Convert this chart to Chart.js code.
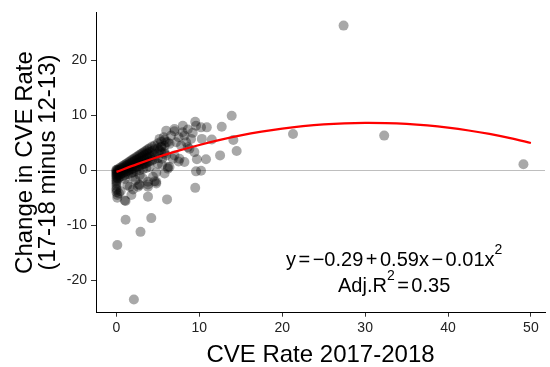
<!DOCTYPE html>
<html lang="en">
<head>
<meta charset="UTF-8">
<title>Change in CVE Rate</title>
<script src="https://cdn.jsdelivr.net/npm/chart.js"></script>
<style>
  html, body { margin: 0; padding: 0; background: #fff; }
  #wrap { width: 550px; height: 367px; }
</style>
</head>
<body>
<div id="wrap"><canvas id="scatterChart"></canvas></div>
<script>
// CVE rate 2017-18 (x) and change in rate, 17-18 minus 12-13 (y)
const cveRate = [
    27.4, 21.3, 32.3, 49.1,
    13.9, 12.7, 14.1, 14.5, 12.5, 10.9, 10.2, 11.5, 10.3, 10.8, 9.7, 9.6, 10.2, 9.5,
    9.5, 9.6, 8.0, 7.0, 8.2, 9.0, 7.2, 6.4, 9.4, 8.2, 7.5, 7.0, 8.6, 6.4, 8.0, 8.4, 8.8, 7.6, 6.2, 6.0,
    5.5, 5.2, 5.4, 6.2, 6.0, 7.0, 6.0, 5.2, 6.8, 6.2, 7.5, 6.6, 5.7, 8.6, 9.2, 7.8, 5.0, 5.8,
    1.1, 4.2, 2.9, 0.1, 2.1, 3.8, 6.1, 1.0, 1.8, 2.7, 3.8, 4.8, 1.6, 2.0, 4.8, 4.4, 3.8, 4.8,
    2.8, 4.6, 3.8, 2.6, 1.1, 0.1, 0.1, 0.0, 0.0, 0.0, 0.3, 0.5, 1.3, 2.3, 3.2, 5.5, 5.8,
    0, 0, 0, 0, 0, 0, 0, 0, 0, 0, 0, 0, 0,
    0.2, 0.2, 0.2, 0.2, 0.2,
    0.4, 0.4, 0.4, 0.4, 0.4,
    0.6, 0.6, 0.6, 0.6,
    0.8, 0.8, 0.8, 0.8, 0.8,
    1.0, 1.0, 1.0, 1.0, 1.0, 1.0,
    1.2, 1.2, 1.2, 1.2,
    1.4, 1.4, 1.4, 1.4, 1.4,
    1.6, 1.6, 1.6, 1.6,
    1.8, 1.8, 1.8, 1.8, 1.8,
    2.0, 2.0, 2.0, 2.0, 2.0, 2.0,
    2.2, 2.2, 2.2, 2.2,
    2.4, 2.4, 2.4, 2.4, 2.4,
    2.6, 2.6, 2.6, 2.6,
    2.8, 2.8, 2.8, 2.8, 2.8, 2.8,
    3.0, 3.0, 3.0, 3.0,
    3.2, 3.2, 3.2, 3.2, 3.2,
    3.4, 3.4, 3.4, 3.4,
    3.6, 3.6, 3.6, 3.6, 3.6,
    3.8, 3.8, 3.8, 3.8,
    4.0, 4.0, 4.0, 4.0, 4.0,
    4.3, 4.3, 4.3, 4.3,
    4.6, 4.6, 4.6, 4.6,
    5.0, 5.0, 5.0, 5.0,
    5.4, 5.4, 5.4,
    5.8, 5.8, 5.8
];
const cveChange = [
    26.3, 6.6, 6.3, 1.1,
    9.9, 7.9, 5.5, 3.5, 2.7, 7.8, 7.8, 5.6, 5.7, 2.0, 2.0, -0.2, -0.1, -3.2,
    8.8, 8.1, 8.1, 7.1, 6.3, 5.7, 5.1, 4.8, 3.3, 1.5, 1.6, 2.7, 4.2, 0.6, 6.9, 5.1, 3.9, 2.1, 5.1, 2.7,
    2.1, 5.7, 4.2, 0.6, 7.2, 7.5, 5.1, 3.6, 2.1, 0.3, 6.0, 6.3, 6.0, 7.4, 6.8, 4.5, 1.2, 3.3,
    -9.0, -8.7, -11.2, -13.6, -23.5, -4.8, -5.3, -5.5, -4.5, -2.6, -2.6, -2.4, -3.0, -3.5, -0.4, -1.2, -2.1, -2.1,
    -2.7, -2.0, -3.0, -3.0, -5.6, -4.5, -5.0, -3.3, -2.1, -1.0, -4.2, -3.8, -2.7, -1.8, -1.5, 1.0, -0.6,
    0.1, 0.0, -0.2, -0.4, -0.6, -0.8, -1.2, -1.5, -1.8, -2.4, -2.8, -3.6, -4.0,
    0.2, 0.0, -0.4, -0.9, -1.5,
    0.4, 0.1, -0.3, -0.8, -1.2,
    0.6, 0.3, -0.1, -0.6,
    0.8, 0.4, 0.0, -0.5, -1.1,
    1.0, 0.6, 0.2, -0.3, -0.9, -1.6,
    1.2, 0.8, 0.3, -0.2,
    1.4, 1.0, 0.5, -0.1, -0.7,
    1.6, 1.1, 0.6, 0.1,
    1.8, 1.3, 0.8, 0.2, -0.5,
    2.0, 1.5, 0.9, 0.3, -0.4, -1.2,
    2.2, 1.7, 1.1, 0.5,
    2.4, 1.9, 1.3, 0.6, -0.2,
    2.6, 2.0, 1.4, 0.7,
    2.8, 2.2, 1.5, 0.8, 0.0, -0.9,
    3.0, 2.4, 1.7, 1.0,
    3.2, 2.6, 1.8, 1.1, 0.2,
    3.4, 2.8, 2.0, 1.2,
    3.6, 3.0, 2.2, 1.3, 0.4,
    3.8, 3.1, 2.3, 1.5,
    4.0, 3.3, 2.5, 1.6, 0.6,
    4.3, 3.5, 2.6, 1.8,
    4.5, 3.8, 2.9, 2.0,
    4.9, 4.0, 3.1, 2.2,
    5.2, 4.3, 3.3,
    5.5, 4.4, 3.0
];

// red fitted curve
const fitRate   = [0, 2.5, 5, 7.5, 10, 12.5, 15, 17.5, 20, 22.5, 25, 27.5, 30, 32.5, 35, 37.5, 40, 42.5, 45, 47.5, 50];
const fitChange = [-0.29, 1.11, 2.40, 3.56, 4.60, 5.52, 6.33, 7.01, 7.57, 8.01, 8.34, 8.54, 8.62, 8.58, 8.43, 8.15, 7.75, 7.23, 6.60, 5.84, 4.96];

const xTickValues = [0, 10, 20, 30, 40, 50];
const yTickValues = [-20, -10, 0, 10, 20];

const FONT = '"Liberation Sans", Arial, sans-serif';

const points = cveRate.map((v, i) => ({ x: v, y: cveChange[i] }));
const fitLine = fitRate.map((v, i) => ({ x: v, y: fitChange[i] }));

// draws a row of text pieces with superscripts, centred on cx
function drawMathLine(ctx, parts, cx, baseY) {
    const big = '20px ' + FONT;
    const small = '14px ' + FONT;
    const gap = 2.5;
    const widths = parts.map(p => { ctx.font = p.sup ? small : big; return ctx.measureText(p.t).width; });
    let total = 0;
    parts.forEach((p, i) => {
        total += widths[i];
        if (i < parts.length - 1 && !parts[i + 1].sup) total += gap;
    });
    let xPos = cx - total / 2;
    ctx.textAlign = 'left';
    ctx.textBaseline = 'alphabetic';
    ctx.fillStyle = '#000';
    parts.forEach((p, i) => {
        ctx.font = p.sup ? small : big;
        ctx.fillText(p.t, xPos, p.sup ? baseY - 12 : baseY);
        xPos += widths[i];
        if (i < parts.length - 1 && !parts[i + 1].sup) xPos += gap;
    });
}

const equationLabel = {
    id: 'equationLabel',
    afterDatasetsDraw(chart) {
        const { ctx, scales: { x, y } } = chart;
        const cx = x.getPixelForValue(33.5);
        ctx.save();
        drawMathLine(ctx, [
            { t: 'y' }, { t: '=' }, { t: '\u22120.29' }, { t: '+' }, { t: '0.59x' },
            { t: '\u2212' }, { t: '0.01x' }, { t: '2', sup: true }
        ], cx, y.getPixelForValue(-17.4));
        drawMathLine(ctx, [
            { t: 'Adj.R' }, { t: '2', sup: true }, { t: '=' }, { t: '0.35' }
        ], cx, y.getPixelForValue(-22.1));
        ctx.restore();
    }
};

new Chart(document.getElementById('scatterChart'), {
    type: 'scatter',
    data: {
        datasets: [
            {
                type: 'line',
                data: fitLine,
                borderColor: '#ff0000',
                borderWidth: 2.2,
                pointRadius: 0,
                tension: 0.3,
                fill: false,
                order: 0
            },
            {
                data: points,
                pointRadius: 5,
                pointBackgroundColor: 'rgba(0, 0, 0, 0.34)',
                pointBorderWidth: 0,
                order: 1
            }
        ]
    },
    options: {
        responsive: true,
        maintainAspectRatio: false,
        animation: false,
        devicePixelRatio: 1,
        layout: { padding: { top: 8, right: 1, left: 0, bottom: 0 } },
        plugins: {
            legend: { display: false },
            tooltip: { enabled: false }
        },
        scales: {
            x: {
                type: 'linear',
                min: -2.47,
                max: 51.7,
                afterBuildTicks: s => { s.ticks = xTickValues.map(v => ({ value: v })); },
                afterFit: s => { s.height = 54.3; },
                grid: { drawOnChartArea: false, drawTicks: true, tickLength: 4, tickColor: '#333', color: '#333' },
                border: { display: true, color: '#000', width: 1 },
                ticks: { color: '#222', font: { family: FONT, size: 14 }, padding: 3, maxRotation: 0, autoSkip: false },
                title: {
                    display: true,
                    text: 'CVE Rate 2017-2018',
                    color: '#000',
                    font: { family: FONT, size: 24, lineHeight: 1 },
                    padding: { top: 0, bottom: 0 }
                }
            },
            y: {
                type: 'linear',
                min: -25.9,
                max: 28.7,
                afterBuildTicks: s => { s.ticks = yTickValues.map(v => ({ value: v })); },
                afterFit: s => { s.width = 96; },
                grid: {
                    color: c => (c.tick && c.tick.value === 0) ? '#bebebe' : 'rgba(0,0,0,0)',
                    tickColor: '#333',
                    tickLength: 5,
                    drawTicks: true,
                    lineWidth: 1
                },
                border: { display: true, color: '#000', width: 1 },
                ticks: { color: '#222', font: { family: FONT, size: 14 }, padding: 4, autoSkip: false },
                title: {
                    display: true,
                    text: ['Change in CVE Rate', '(17-18 minus 12-13)'],
                    color: '#000',
                    font: { family: FONT, size: 24, lineHeight: 0.95 },
                    padding: { top: 14, bottom: 0 }
                }
            }
        }
    },
    plugins: [equationLabel]
});
</script>
</body>
</html>
